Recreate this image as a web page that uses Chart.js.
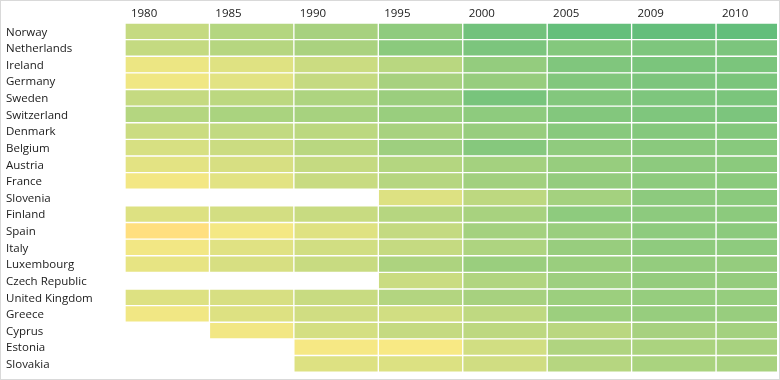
<!DOCTYPE html>
<html>
<head>
<meta charset="utf-8">
<script src="https://cdn.jsdelivr.net/npm/chart.js@4"></script>
<style>
  html, body { margin: 0; padding: 0; background: #fff; }
  #wrap { width: 778px; height: 378px; border: 1px solid #d9d9d9; }
</style>
</head>
<body>
<div id="wrap"><canvas id="heatChart" width="778" height="378"></canvas></div>
<script>
const countries = ["Norway", "Netherlands", "Ireland", "Germany", "Sweden", "Switzerland", "Denmark",
  "Belgium", "Austria", "France", "Slovenia", "Finland", "Spain", "Italy", "Luxembourg",
  "Czech Republic", "United Kingdom", "Greece", "Cyprus", "Estonia", "Slovakia"];
const years = ["1980", "1985", "1990", "1995", "2000", "2005", "2009", "2010"];

// one value per country, same order as countries (null = no data)
const hdi1980 = [0.777, 0.780, 0.713, 0.707, 0.778, 0.805, 0.768, 0.747, 0.727, 0.702, null,
  0.738, 0.680, 0.703, 0.722, null, 0.738, 0.705, null, null, null];
const hdi1985 = [0.805, 0.803, 0.735, 0.730, 0.792, 0.822, 0.782, 0.768, 0.748, 0.730, null,
  0.755, 0.700, 0.732, 0.748, null, 0.748, 0.738, 0.703, null, null];
const hdi1990 = [0.828, 0.823, 0.767, 0.777, 0.815, 0.827, 0.793, 0.798, 0.777, 0.772, null,
  0.772, 0.735, 0.758, 0.772, null, 0.772, 0.760, 0.752, 0.697, 0.738];
const hdi1995 = [0.867, 0.873, 0.798, 0.828, 0.847, 0.850, 0.825, 0.843, 0.805, 0.803, 0.737,
  0.802, 0.780, 0.778, 0.817, 0.770, 0.808, 0.757, 0.777, 0.693, 0.740];
const hdi2000 = [0.915, 0.898, 0.858, 0.853, 0.905, 0.868, 0.852, 0.882, 0.832, 0.835, 0.790,
  0.825, 0.832, 0.815, 0.848, 0.810, 0.828, 0.787, 0.790, 0.757, 0.760];
const hdi2005 = [0.937, 0.885, 0.892, 0.888, 0.887, 0.887, 0.878, 0.865, 0.853, 0.858, 0.833,
  0.868, 0.848, 0.852, 0.848, 0.842, 0.845, 0.845, 0.795, 0.812, 0.802];
const hdi2009 = [0.939, 0.895, 0.900, 0.897, 0.895, 0.893, 0.883, 0.875, 0.870, 0.868, 0.870,
  0.870, 0.868, 0.867, 0.858, 0.857, 0.855, 0.853, 0.828, 0.820, 0.822];
const hdi2010 = [0.940, 0.898, 0.900, 0.900, 0.900, 0.898, 0.885, 0.878, 0.873, 0.873, 0.873,
  0.872, 0.872, 0.868, 0.857, 0.857, 0.855, 0.852, 0.832, 0.825, 0.825];

const yearValues = [hdi1980, hdi1985, hdi1990, hdi1995, hdi2000, hdi2005, hdi2009, hdi2010];

const scaleMin = 0.68;
const scaleMax = 0.94;
const lowColor = [255, 223, 127];
const midColor = [248, 233, 132];
const highColor = [99, 190, 123];

function cellColor(v) {
  const t = Math.max(0, Math.min(1, (v - scaleMin) / (scaleMax - scaleMin)));
  let a, b, u;
  if (t < 0.05) {
    a = lowColor; b = midColor; u = t / 0.05;
  } else {
    a = midColor; b = highColor; u = (t - 0.05) / 0.95;
  }
  const c = a.map((x, i) => Math.round(x + (b[i] - x) * u));
  return "rgb(" + c.join(",") + ")";
}

const labelFont = { family: "'Open Sans', 'Noto Sans', sans-serif", size: 11.5 };

const datasets = yearValues.map((vals, j) => ({
  label: years[j],
  data: vals.map(v => v == null ? null : [j, j + 1]),
  backgroundColor: vals.map(v => v == null ? "rgba(0,0,0,0)" : cellColor(v)),
  borderColor: "#ffffff",
  borderWidth: 1,
  borderSkipped: false,
  grouped: false,
  barPercentage: 1,
  categoryPercentage: 1
}));

new Chart(document.getElementById("heatChart"), {
  type: "bar",
  data: { labels: countries, datasets: datasets },
  options: {
    responsive: false,
    animation: false,
    indexAxis: "y",
    layout: { padding: { left: 5, right: 2, top: 0, bottom: 0 } },
    plugins: { legend: { display: false }, tooltip: { enabled: false } },
    scales: {
      x: {
        type: "linear",
        position: "top",
        min: 0,
        max: 7.722,
        grid: { display: false, drawTicks: false },
        border: { display: false },
        afterBuildTicks: scale => {
          scale.ticks = years.map((y, j) => ({ value: j + 0.07 }));
        },
        afterFit: scale => { scale.height = 22; },
        ticks: {
          align: "start",
          autoSkip: false,
          maxRotation: 0,
          padding: 2,
          color: "#1a1a1a",
          font: labelFont,
          callback: value => years[Math.floor(value)]
        }
      },
      y: {
        grid: { display: false, drawTicks: false },
        border: { display: false },
        afterFit: scale => { scale.width = 119; },
        ticks: {
          crossAlign: "far",
          autoSkip: false,
          padding: 0,
          labelOffset: 1,
          color: "#1a1a1a",
          font: labelFont
        }
      }
    }
  }
});
</script>
</body>
</html>
